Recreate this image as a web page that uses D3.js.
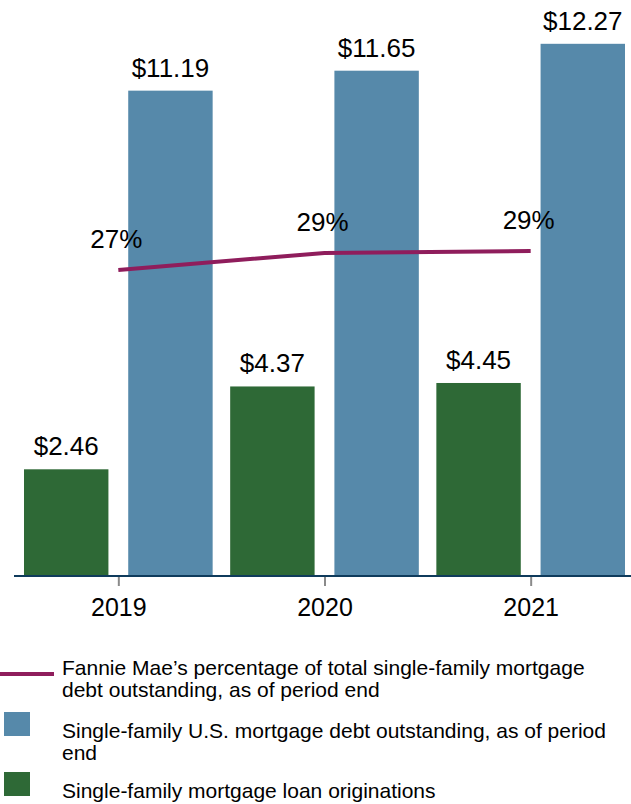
<!DOCTYPE html>
<html>
<head>
<meta charset="utf-8">
<script src="https://cdn.jsdelivr.net/npm/d3@7"></script>
<style>
  html, body { margin: 0; padding: 0; background: #fff; }
  svg { display: block; font-family: "Liberation Sans", Arial, sans-serif; }
</style>
</head>
<body>
<svg id="chart" width="631" height="804"></svg>
<script>
// ---- data ----
const years = ["2019", "2020", "2021"];
const originations = [2.46, 4.37, 4.45];     // green bars ($ trillions)
const debtOutstanding = [11.19, 11.65, 12.27]; // blue bars ($ trillions)
const fanniePct = [27.0, 28.9, 29.1];        // line (%)
const seriesKeys = ["orig", "debt"];
const legendItems = [
  { key: "pct",  lines: ["Fannie Mae\u2019s percentage of total single-family mortgage", "debt outstanding, as of period end"] },
  { key: "debt", lines: ["Single-family U.S. mortgage debt outstanding, as of period", "end"] },
  { key: "orig", lines: ["Single-family mortgage loan originations"] }
];

// ---- styles ----
const colors = { orig: "#2e6936", debt: "#5689aa", pct: "#8f1d5c" };
const axisColor = "#0f3b5c";

const svg = d3.select("#chart");
const baseY = 576;

const x = d3.scaleBand().domain(years).range([24, 625]).paddingInner(0.085).paddingOuter(0);
const xs = d3.scaleBand().domain(seriesKeys).range([0, x.bandwidth()]).paddingInner(0.19);
const y = d3.scaleLinear().domain([0, 13.28]).range([baseY, 0]);
const y2 = d3.scaleLinear().domain([20, 40]).range([333, 153]);

const rows = years.map((yr, i) => ({ year: yr, orig: originations[i], debt: debtOutstanding[i], pct: fanniePct[i] }));

// bars
const g = svg.append("g");
rows.forEach(r => {
  seriesKeys.forEach(k => {
    const bx = x(r.year) + xs(k);
    g.append("rect")
      .attr("x", bx).attr("y", y(r[k]))
      .attr("width", xs.bandwidth()).attr("height", baseY - y(r[k]))
      .attr("fill", colors[k]);
    g.append("text")
      .attr("x", bx + xs.bandwidth() / 2).attr("y", y(r[k]) - 14)
      .attr("text-anchor", "middle").attr("font-size", 26).attr("fill", "#000")
      .text("$" + d3.format(".2f")(r[k]));
  });
});

// axis
const xAxisScale = d3.scalePoint().domain(years).range([x(years[0]) + x.bandwidth() / 2, x(years[2]) + x.bandwidth() / 2]);
const axisG = svg.append("g").attr("transform", `translate(0,${baseY})`)
  .call(d3.axisBottom(xAxisScale).tickSize(10).tickPadding(12).tickSizeOuter(0));
axisG.select(".domain").remove();
axisG.selectAll(".tick line").attr("stroke", "#8a8a8a").attr("stroke-width", 2);
axisG.selectAll(".tick text").attr("font-size", 25).attr("fill", "#000")
  .attr("font-family", "Liberation Sans, Arial, sans-serif");
svg.append("line").attr("x1", 14).attr("x2", 631).attr("y1", baseY).attr("y2", baseY)
  .attr("stroke", axisColor).attr("stroke-width", 2);

// line
const line = d3.line().x(d => xAxisScale(d.year)).y(d => y2(d.pct));
svg.append("path").datum(rows).attr("d", line)
  .attr("fill", "none").attr("stroke", colors.pct).attr("stroke-width", 4);
svg.selectAll(".pctLabel").data(rows).join("text")
  .attr("x", d => xAxisScale(d.year) - 2).attr("y", d => y2(d.pct) - 22)
  .attr("text-anchor", "middle").attr("font-size", 26).attr("fill", "#000")
  .text(d => d3.format(".0f")(d.pct) + "%");

// legend
const legendTop = [675, 738, 798];
const lineH = 22;
legendItems.forEach((item, i) => {
  const base = legendTop[i];
  if (item.key === "pct") {
    svg.append("line").attr("x1", 0).attr("x2", 54).attr("y1", base - 1).attr("y2", base - 1)
      .attr("stroke", colors.pct).attr("stroke-width", 4);
  } else {
    svg.append("rect").attr("x", 4).attr("y", base - 26).attr("width", 26).attr("height", 24)
      .attr("fill", colors[item.key]);
  }
  const t = svg.append("text").attr("font-size", 21).attr("fill", "#000");
  item.lines.forEach((ln, j) => {
    t.append("tspan").attr("x", 62).attr("y", base + j * lineH).text(ln);
  });
});
</script>
</body>
</html>
